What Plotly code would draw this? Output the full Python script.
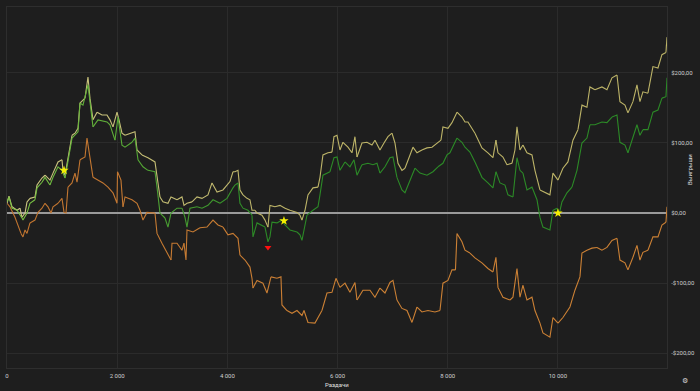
import plotly.graph_objects as go

# ---- data (hands, winnings $) ----
ev_x = [0, 36, 91, 182, 236, 272, 327, 363, 417, 508, 545, 635, 690, 780, 835, 926, 998, 1016, 1053, 1107,
        1180, 1234, 1289, 1325, 1416, 1470, 1506, 1561, 1634, 1724, 1815, 1869, 1924, 1997, 2033, 2087, 2142,
        2269, 2323, 2360, 2450, 2559, 2686, 2723, 2777, 2831, 2922, 2977, 3086, 3176, 3213, 3267, 3358, 3449,
        3539, 3648, 3721, 3812, 3920, 4047, 4102, 4138, 4193, 4229, 4283, 4356, 4410, 4447, 4501, 4538, 4628,
        4683, 4737, 4773, 4864, 4955, 5046, 5136, 5264, 5318, 5354, 5409, 5463, 5554, 5645, 5681, 5735, 5826,
        5899, 5935, 5990, 6044, 6098, 6189, 6262, 6316, 6353, 6443, 6534, 6625, 6679, 6770, 6843, 6915, 6988,
        7042, 7097, 7169, 7224, 7278, 7369, 7442, 7532, 7623, 7714, 7805, 7877, 7913, 8004, 8077, 8168, 8258,
        8313, 8367, 8494, 8621, 8730, 8821, 8875, 8912, 9002, 9075, 9166, 9220, 9257, 9311, 9365, 9438, 9529,
        9583, 9674, 9765, 9855, 9910, 10001, 10091, 10182, 10273, 10364, 10436, 10527, 10581, 10672, 10799,
        10890, 10981, 11072, 11126, 11217, 11271, 11362, 11435, 11489, 11543, 11634, 11725, 11816, 11888,
        11961, 11980]
ev_y = [14, 24, 9, 4, 7, -6, 0, 16, 21, 23, 40, 50, 54, 47, 57, 73, 76, 61, 54, 80,
        111, 114, 121, 157, 164, 194, 164, 133, 144, 140, 140, 133, 123, 144, 133, 114, 111,
        114, 116, 90, 83, 79, 73, 51, 23, 16, 14, 23, 19, 23, 11, 14, 16, 23,
        21, 26, 43, 30, 33, 45, 59, 59, 61, 33, 26, 21, 19, 4, 4, 0, -3,
        -10, -20, 11, 9, 11, 7, 4, 1, -3, -10, 4, 26, 36, 37, 51, 83, 86,
        87, 109, 111, 90, 101, 94, 86, 109, 80, 100, 101, 97, 104, 90, 100, 109, 114,
        100, 71, 61, 64, 76, 94, 86, 90, 93, 94, 100, 104, 123, 121, 129, 144, 137,
        130, 130, 114, 93, 86, 79, 104, 86, 80, 69, 71, 90, 123, 90, 97, 86, 83,
        61, 33, 29, 26, 57, 47, 64, 73, 104, 119, 154, 151, 180, 176, 180,
        176, 193, 197, 159, 154, 143, 159, 183, 159, 173, 171, 209, 207, 226,
        229, 251]

won_x = [0, 36, 91, 182, 272, 290, 363, 417, 508, 545, 635, 690, 780, 835, 926, 998, 1053, 1107, 1180,
         1289, 1325, 1379, 1470, 1506, 1561, 1652, 1815, 1869, 1960, 2015, 2087, 2142, 2269, 2323, 2378,
         2468, 2559, 2686, 2723, 2777, 2868, 2922, 2977, 3086, 3176, 3231, 3267, 3321, 3449, 3539, 3648,
         3739, 3866, 3993, 4102, 4138, 4193, 4229, 4283, 4374, 4447, 4465, 4538, 4628, 4683, 4737, 4773,
         4810, 4900, 4991, 5046, 5136, 5264, 5318, 5354, 5445, 5554, 5645, 5681, 5735, 5862, 5935, 5990,
         6044, 6135, 6225, 6298, 6353, 6443, 6552, 6643, 6716, 6770, 6861, 6951, 7006, 7078, 7169, 7224,
         7315, 7405, 7496, 7623, 7732, 7823, 7913, 7986, 8040, 8168, 8258, 8313, 8403, 8494, 8621, 8730,
         8821, 8875, 8948, 9039, 9093, 9184, 9238, 9257, 9311, 9365, 9438, 9529, 9620, 9674, 9728, 9855,
         9910, 9983, 10019, 10073, 10164, 10255, 10346, 10436, 10527, 10581, 10672, 10799, 10890, 10981,
         11072, 11126, 11217, 11271, 11362, 11435, 11489, 11543, 11634, 11725, 11816, 11888, 11961, 11980]
won_y = [16, 23, 7, 4, -7, -10, 0, 14, 19, 36, 44, 51, 40, 51, 66, 61, 50, 76, 107,
         116, 157, 154, 183, 157, 123, 133, 130, 126, 104, 137, 97, 94, 101, 107, 76,
         66, 61, 59, 37, 0, -7, -20, 0, 7, 7, -6, -20, 7, 9, 7, 11,
         19, 14, 21, 36, 40, 43, 14, 7, 4, -3, -34, -14, -17, -20, -41, -34,
         -13, -14, -10, -17, -24, -27, -31, -39, -3, 4, 9, 26, 54, 59, 79, 80,
         61, 73, 66, 76, 54, 69, 71, 69, 71, 57, 66, 79, 80, 51, 33, 29,
         47, 64, 57, 54, 59, 66, 71, 83, 86, 107, 101, 94, 87, 73, 51, 43,
         36, 59, 43, 40, 26, 23, 61, 79, 61, 57, 33, 37, 19, -6, -20, -24,
         4, 7, -3, 16, 29, 37, 61, 100, 107, 126, 126, 130, 129, 137,
         140, 101, 97, 86, 109, 126, 111, 119, 119, 144, 147, 164, 166, 193]

nsd_x = [0, 54, 145, 200, 254, 290, 327, 363, 417, 508, 563, 635, 690, 744, 799, 835, 926, 998, 1035,
         1071, 1107, 1180, 1234, 1271, 1325, 1416, 1452, 1506, 1561, 1652, 1742, 1833, 1924, 1997, 2006,
         2069, 2105, 2142, 2269, 2360, 2414, 2468, 2541, 2632, 2686, 2723, 2813, 2904, 2977, 2995, 3086,
         3176, 3213, 3249, 3267, 3376, 3503, 3630, 3739, 3830, 3920, 4011, 4102, 4193, 4229, 4320, 4410,
         4447, 4465, 4538, 4646, 4719, 4792, 4900, 4973, 4991, 5082, 5173, 5264, 5354, 5391, 5463, 5590,
         5645, 5717, 5808, 5899, 5971, 6044, 6135, 6225, 6316, 6353, 6461, 6589, 6679, 6770, 6861, 6951,
         7006, 7078, 7169, 7260, 7351, 7442, 7532, 7641, 7768, 7859, 7913, 8004, 8077, 8140, 8168, 8258,
         8313, 8403, 8494, 8621, 8730, 8821, 8875, 8912, 9002, 9129, 9184, 9257, 9311, 9365, 9438, 9529,
         9583, 9674, 9728, 9855, 9910, 10001, 10091, 10218, 10309, 10400, 10436, 10527, 10618, 10709,
         10799, 10890, 10981, 11072, 11126, 11217, 11271, 11362, 11435, 11489, 11543, 11634, 11725, 11816,
         11888, 11961, 11980]
nsd_y = [14, 9, -6, -17, -29, -34, -24, -29, -14, -10, 1, 7, 14, 9, 0, 9, 14, 21, 1,
         0, 37, 43, 57, 44, 76, 80, 107, 79, 51, 47, 43, 37, 29, 14, 59,
         47, 9, 23, 19, 14, 4, -10, 1, 1, 0, -29, -43, -56, -67, -43, -43,
         -53, -43, -67, -24, -27, -21, -20, -10, -17, -20, -31, -29, -36, -60, -67, -77,
         -93, -107, -96, -100, -114, -91, -93, -91, -131, -139, -143, -139, -146, -139, -156, -157,
         -150, -139, -114, -113, -93, -106, -100, -113, -99, -124, -110, -110, -120, -107, -114, -99,
         -96, -124, -136, -139, -156, -134, -141, -139, -141, -139, -100, -96, -81, -81, -29, -41,
         -53, -57, -64, -71, -79, -84, -63, -106, -120, -124, -120, -79, -120, -103, -124, -120,
         -139, -157, -171, -177, -149, -157, -149, -134, -110, -91, -57, -53, -50, -49,
         -53, -49, -39, -36, -67, -71, -81, -63, -46, -67, -56, -53, -34, -34,
         -17, -13, 9]

star_x = [1035, 5027, 10001]
star_y = [61, -11, 0]
low_x = [4737]
low_y = [-49]

x_ticks = [0, 2000, 4000, 6000, 8000, 10000]
x_labels = ["0", "2 000", "4 000", "6 000", "8 000", "10 000"]
y_ticks = [-200, -100, 0, 100, 200]
y_labels = ["-$200,00", "-$100,00", "$0,00", "$100,00", "$200,00"]

BG = "#1e1e1e"
fig = go.Figure()


def lerp(c1, c2, t):
    a = [int(c1[i:i + 2], 16) for i in (1, 3, 5)]
    b = [int(c2[i:i + 2], 16) for i in (1, 3, 5)]
    return "#" + "".join("%02x" % round(a[k] + (b[k] - a[k]) * t) for k in range(3))


def gradient_line(xs, ys, c_start, c_end, span, chunk=4, width=1.1):
    n = len(xs)
    i = 0
    while i < n - 1:
        j = min(i + chunk, n - 1)
        t = min(xs[i] / span, 1.0)
        fig.add_trace(go.Scatter(x=xs[i:j + 1], y=ys[i:j + 1], mode="lines",
                                 line=dict(color=lerp(c_start, c_end, t), width=width),
                                 hoverinfo="skip", showlegend=False))
        i = j


# zero line
fig.add_trace(go.Scatter(x=[0, ev_x[-1]], y=[0, 0], mode="lines",
                         line=dict(color="#9a9a9a", width=2), hoverinfo="skip", showlegend=False))

gradient_line(nsd_x, nsd_y, "#c07430", "#cc8135", 6000)
gradient_line(ev_x, ev_y, "#cdc882", "#bdb468", 5000)
gradient_line(won_x, won_y, "#7cc244", "#2c8a27", 4500)

fig.add_trace(go.Scatter(x=star_x, y=star_y, mode="markers",
                         marker=dict(symbol="star", size=7, color="#f5f000", line=dict(width=0)),
                         showlegend=False))
fig.add_trace(go.Scatter(x=low_x, y=low_y, mode="markers",
                         marker=dict(symbol="triangle-down", size=6, color="#ff1010", line=dict(width=0)),
                         showlegend=False))

fig.update_layout(
    width=700, height=391,
    paper_bgcolor=BG, plot_bgcolor=BG,
    margin=dict(l=7, r=33, t=7, b=23, autoexpand=False),
    showlegend=False,
    font=dict(family="Roboto, Arial, sans-serif", color="#d0d0d0", size=6),
    xaxis=dict(range=[0, ev_x[-1]], tickvals=x_ticks, ticktext=x_labels, automargin=False,
               showgrid=True, gridcolor="#2b2b2b", gridwidth=1, zeroline=False,
               showline=True, linecolor="#2e2e2e", mirror=True,
               ticks="", ticklabelstandoff=2, tickfont=dict(size=6, color="#cfcfcf")),
    yaxis=dict(range=[-221, 294], side="right", tickvals=y_ticks, ticktext=y_labels, automargin=False,
               showgrid=True, gridcolor="#2b2b2b", gridwidth=1, zeroline=False,
               showline=True, linecolor="#2e2e2e", mirror=True,
               ticks="", ticklabelstandoff=2, tickfont=dict(size=6, color="#cfcfcf")),
    annotations=[
        dict(text="Раздачи", xref="paper", yref="paper", x=0.5, y=0, yshift=-16,
             showarrow=False, font=dict(size=6, color="#e0e0e0"), yanchor="middle"),
        dict(text="Выигрыши", xref="paper", yref="paper", x=1, xshift=28, y=0.55,
             showarrow=False, textangle=-90, font=dict(size=6, color="#e0e0e0")),
        dict(text="⚙", xref="paper", yref="paper", x=1, xshift=23, y=0, yshift=-19,
             showarrow=False, font=dict(size=7, color="#d8d8d8")),
    ],
)

fig.write_html("out.html", config={"displayModeBar": False},
               post_script="document.body.style.margin='0';document.body.style.overflow='hidden';"
                           "document.body.style.background='" + BG + "';")
